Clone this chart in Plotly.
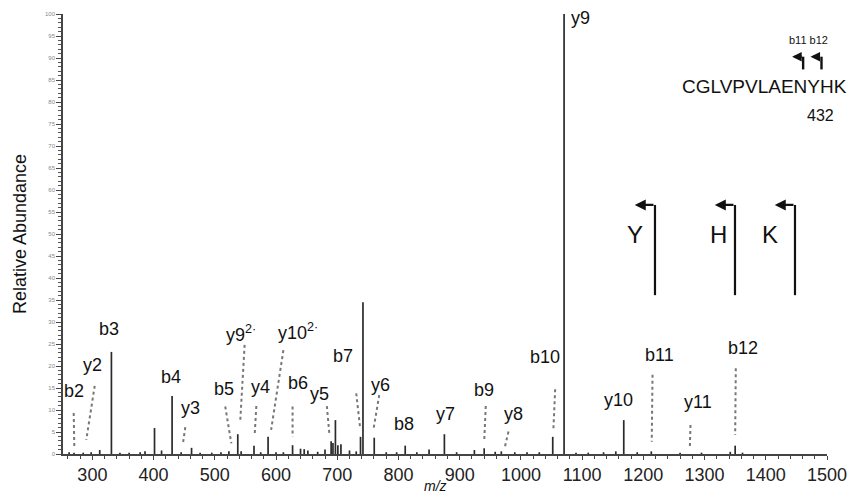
import plotly.graph_objects as go

# ---- spectrum data (m/z, relative abundance) ----
peak_mz = [262, 270, 285, 298, 312, 331.1, 345, 360, 378, 386, 401.5, 413, 430.2, 445, 462,
           476, 495, 510, 523, 537.5, 543, 564, 575, 587, 600, 612, 627, 640, 646, 652, 668,
           680, 690, 693, 697, 701, 706, 720, 731, 738, 742, 760.4, 780, 797, 811, 830, 850,
           875, 895, 924, 940, 958, 968, 990, 1010, 1030, 1052, 1070.5, 1090, 1110, 1135,
           1155, 1168, 1190, 1213, 1260, 1295, 1342, 1350, 1362]
peak_int = [0.4, 0.3, 0.3, 0.4, 0.9, 23.2, 0.3, 0.3, 0.4, 0.6, 5.9, 0.8, 13.2, 0.4, 1.4,
            0.3, 0.3, 0.4, 0.6, 4.5, 0.6, 1.9, 0.4, 3.9, 0.4, 0.4, 2.0, 1.2, 1.1, 0.8, 0.5,
            1.0, 2.9, 2.5, 7.7, 2.0, 2.2, 0.8, 0.6, 3.9, 34.5, 3.7, 0.4, 0.4, 1.9, 0.4, 1.0,
            4.5, 0.4, 0.9, 1.3, 0.5, 0.6, 0.4, 0.4, 0.4, 3.9, 100, 0.3, 0.3, 0.4,
            0.6, 7.7, 0.4, 0.6, 0.3, 0.3, 0.5, 1.9, 0.3]

# ---- fragment labels: text, label x, label y ----
frag_text = ["b2", "y2", "b3", "b4", "y3", "b5", "y9<sup>2·</sup>", "y4", "y10<sup>2·</sup>",
             "b6", "y5", "b7", "y6", "b8", "y7", "b9", "y8", "b10", "y9", "y10", "b11",
             "y11", "b12"]
frag_x = [269.5, 299.5, 327.8, 428.4, 461, 514.4, 543, 574, 636, 635.6, 671, 710, 770,
          809, 876, 940.5, 988, 1039.6, 1097, 1159, 1227, 1290, 1363]
frag_y = [14.4, 20.2, 28.4, 17.6, 10.4, 14.7, 27.5, 15.2, 27.8, 16.1, 13.6, 22.3, 15.7,
          6.8, 9.2, 14.5, 9.2, 22.1, 99.0, 12.3, 22.5, 11.9, 24.0]

# ---- dotted leader lines: x0, y0, x1, y1 ----
lead_x0 = [269.5, 303.8, 451.8, 517, 548.7, 567.8, 612, 627, 683, 731, 768.6, 942.6,
           979.7, 1056, 1215, 1277, 1351]
lead_y0 = [9.3, 15.5, 6.1, 10.8, 24.8, 10.9, 23.6, 10.8, 10.9, 13.8, 13.4, 10.9, 5.1,
           14.7, 18.0, 6.6, 19.5]
lead_x1 = [270.5, 290, 448, 527, 541.6, 565, 592, 627, 687, 737.5, 759, 940, 974, 1053,
           1213.7, 1276, 1350]
lead_y1 = [1.2, 3.2, 2.5, 2.4, 7.7, 4.1, 5.5, 3.9, 4.7, 5.8, 5.5, 2.8, 1.7, 5.5, 2.8,
           1.7, 4.3]

# ---- sequence cartoon ----
seq_text = "CGLVPVLAENYHK"
res_letters = ["Y", "H", "K"]
res_arrow_x = [1219, 1349.7, 1447.7]
res_letter_x = [1186, 1322, 1407]

FONT = "Liberation Sans, Arial, sans-serif"

sx, sy = [], []
for m, h in zip(peak_mz, peak_int):
    sx += [m, m, None]
    sy += [0, h, None]

fig = go.Figure()
fig.add_trace(go.Scatter(x=sx, y=sy, mode="lines",
                         line=dict(color="#2a2a2a", width=1.7),
                         hoverinfo="skip", showlegend=False))

shapes = []
for x0, y0, x1, y1 in zip(lead_x0, lead_y0, lead_x1, lead_y1):
    shapes.append(dict(type="line", xref="x", yref="y", x0=x0, y0=y0, x1=x1, y1=y1,
                       line=dict(color="#777777", width=2, dash="dot")))

annotations = []
for t, x, y in zip(frag_text, frag_x, frag_y):
    annotations.append(dict(x=x, y=y, xref="x", yref="y", text=t, showarrow=False,
                            font=dict(family=FONT, size=18, color="#111111")))

# bent arrows for Y, H, K
for ax_, lx, letter in zip(res_arrow_x, res_letter_x, res_letters):
    shapes.append(dict(type="line", xref="x", yref="y", x0=ax_, y0=36.1, x1=ax_, y1=56.6,
                       line=dict(color="#111111", width=2.2)))
    annotations.append(dict(x=ax_ - 33, y=56.6, xref="x", yref="y", ax=ax_, ay=56.6,
                            axref="x", ayref="y", text="", showarrow=True,
                            arrowhead=2, arrowsize=1, arrowwidth=2.2, arrowcolor="#111111"))
    annotations.append(dict(x=lx, y=49.8, xref="x", yref="y", text=letter, showarrow=False,
                            font=dict(family=FONT, size=24, color="#111111")))

# peptide sequence and small b11/b12 arrows
annotations.append(dict(x=1398, y=83.6, xref="x", yref="y", text=seq_text, showarrow=False,
                        font=dict(family=FONT, size=19, color="#111111")))
annotations.append(dict(x=1469, y=94.0, xref="x", yref="y", text="b11 b12", showarrow=False,
                        font=dict(family=FONT, size=11, color="#111111")))
annotations.append(dict(x=1490, y=77.0, xref="x", yref="y", text="432", showarrow=False,
                        font=dict(family=FONT, size=16, color="#111111")))
for stem_x in [1461, 1491]:
    shapes.append(dict(type="line", xref="x", yref="y", x0=stem_x, y0=87.4, x1=stem_x, y1=90.3,
                       line=dict(color="#111111", width=2.4)))
    annotations.append(dict(x=stem_x - 18, y=90.3, xref="x", yref="y", ax=stem_x, ay=90.3,
                            axref="x", ayref="y", text="", showarrow=True,
                            arrowhead=2, arrowsize=0.8, arrowwidth=2.4, arrowcolor="#111111"))

# x-axis title placed just below the tick labels
annotations.append(dict(x=0.487, y=-0.073, xref="paper", yref="paper", text="<i>m/z</i>",
                        showarrow=False, yanchor="middle",
                        font=dict(family=FONT, size=14, color="#111111")))

fig.update_layout(
    width=861, height=497,
    margin=dict(l=63, r=34, t=14, b=43),
    paper_bgcolor="white", plot_bgcolor="white",
    font=dict(family=FONT, color="#111111"),
    shapes=shapes, annotations=annotations,
    showlegend=False,
)
fig.update_xaxes(
    range=[252, 1500], tickmode="array", tickvals=list(range(300, 1501, 100)),
    ticks="outside", ticklen=4, tickwidth=1, tickcolor="#444",
    tickfont=dict(size=18, color="#222222"), ticklabelstandoff=0, automargin=False,
    showline=True, linecolor="#444444", linewidth=1.5, showgrid=False, zeroline=False,
    minor=dict(dtick=20, tick0=300, ticks="outside", ticklen=3, tickcolor="#444"),
)
fig.update_yaxes(
    range=[0, 100], dtick=5, tick0=0, automargin=False,
    ticks="outside", ticklen=5, tickwidth=1, tickcolor="#444",
    tickfont=dict(size=6, color="#888888"),
    showline=True, linecolor="#444444", linewidth=1.5, showgrid=False, zeroline=False,
    minor=dict(dtick=1, ticks="outside", ticklen=3, tickcolor="#555"),
    title=dict(text="Relative Abundance", font=dict(size=18, color="#111111"), standoff=14),
)

fig.write_html("out.html")
